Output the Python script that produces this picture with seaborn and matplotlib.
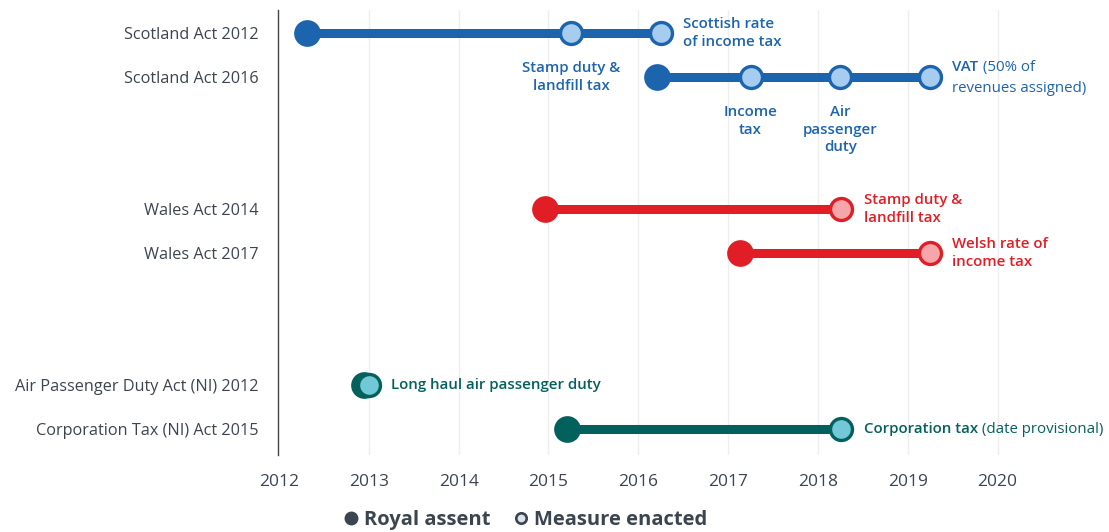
import numpy as np
import pandas as pd
import seaborn as sns
import matplotlib.pyplot as plt
from matplotlib.lines import Line2D

# --- data -------------------------------------------------------------
acts = ['Scotland Act 2012', 'Scotland Act 2016', 'Wales Act 2014',
        'Wales Act 2017', 'Air Passenger Duty Act (NI) 2012',
        'Corporation Tax (NI) Act 2015']
nations = ['Scotland', 'Scotland', 'Wales', 'Wales', 'NI', 'NI']
royal_assent = [2012.31, 2016.21, 2014.96, 2017.13, 2012.95, 2015.21]
measures = [[2015.25, 2016.25],
            [2017.25, 2018.25, 2019.25],
            [2018.26],
            [2019.25],
            [2013.0],
            [2018.26]]
measure_bold = [['Stamp duty &\nlandfill tax', 'Scottish rate\nof income tax'],
                ['Income\ntax', 'Air\npassenger\nduty', 'VAT'],
                ['Stamp duty &\nlandfill tax'],
                ['Welsh rate of\nincome tax'],
                ['Long haul air passenger duty'],
                ['Corporation tax']]
measure_extra = [['', ''],
                 ['', '', '(50% of\nrevenues assigned)'],
                 [''],
                 [''],
                 [''],
                 ['(date provisional)']]
label_side = [['below', 'right'],
              ['below', 'below', 'right'],
              ['right'], ['right'], ['right'], ['right']]
years = list(range(2012, 2021))

# --- styling ----------------------------------------------------------
dark = {'Scotland': '#1c64ae', 'Wales': '#e11d25', 'NI': '#02615d'}
light = {'Scotland': '#a6cdef', 'Wales': '#f4a6aa', 'NI': '#73c8d7'}
text_grey = '#3b4550'
fs = 10.8
bold = 'semibold'

sns.set_theme(style='white')
plt.rcParams['font.family'] = ['Open Sans', 'DejaVu Sans']

nation_order = list(dict.fromkeys(nations))
rows = []
for i, n in enumerate(nations):
    rows.append(nation_order.index(n) * 4 + nations[:i].count(n))

pts = []
for i in range(len(acts)):
    pts.append(dict(row=rows[i], x=royal_assent[i], kind='assent', nation=nations[i]))
    for m in measures[i]:
        pts.append(dict(row=rows[i], x=m, kind='measure', nation=nations[i]))
df = pd.DataFrame(pts)

fig = plt.figure(figsize=(11.09, 5.32), dpi=100)
ax = fig.add_axes([279 / 1109, 1 - 455 / 532, (1100 - 279) / 1109, 445 / 532])

for y in years[1:]:
    ax.axvline(y, color='#eeeeee', lw=1, zorder=0)

for i in range(len(acts)):
    ax.plot([royal_assent[i], max(measures[i])], [rows[i], rows[i]],
            color=dark[nations[i]], lw=6.5, solid_capstyle='butt', zorder=2)

for n in nation_order:
    sub = df[(df.nation == n) & (df.kind == 'assent')]
    sns.scatterplot(data=sub, x='x', y='row', ax=ax, s=370, color=dark[n],
                    edgecolor=dark[n], linewidth=0, zorder=3, legend=False)
    sub = df[(df.nation == n) & (df.kind == 'measure')]
    sns.scatterplot(data=sub, x='x', y='row', ax=ax, s=250, color=light[n],
                    edgecolor=dark[n], linewidth=2.4, zorder=4, legend=False)

for i in range(len(acts)):
    col = dark[nations[i]]
    for m, b, e, side in zip(measures[i], measure_bold[i], measure_extra[i], label_side[i]):
        if side == 'below':
            ax.annotate(b, (m, rows[i]), xytext=(0, -20), textcoords='offset points',
                        ha='center', va='top', fontsize=fs, fontweight=bold,
                        color=col, linespacing=1.35)
        elif not e:
            ax.annotate(b, (m, rows[i]), xytext=(16, 0), textcoords='offset points',
                        ha='left', va='center', fontsize=fs, fontweight=bold,
                        color=col, linespacing=1.35)
        else:
            first, _, rest = e.partition('\n')
            dy = 7 if rest else 0
            t = ax.annotate(b, (m, rows[i]), xytext=(16, dy), textcoords='offset points',
                            ha='left', va='center', fontsize=fs, fontweight=bold,
                            color=col)
            ax.annotate(' ' + first, (1, 0.5), xycoords=t, ha='left', va='center',
                        fontsize=fs, color=col)
            if rest:
                ax.annotate(rest, (m, rows[i]), xytext=(16, -8), textcoords='offset points',
                            ha='left', va='center', fontsize=fs, color=col)

ax.set_xlim(2012, 2021.14)
ax.set_ylim(rows[-1] + 0.59, -0.52)
ax.set_yticks(rows)
ax.set_yticklabels(acts)
ax.set_xticks(years)
ax.set_xticklabels([str(y) for y in years])
ax.tick_params(axis='y', length=0, pad=14, labelsize=11.7, labelcolor=text_grey)
ax.tick_params(axis='x', length=0, pad=14, labelsize=12.5, labelcolor=text_grey)
ax.set_xlabel('')
ax.set_ylabel('')
for s in ['top', 'right', 'bottom']:
    ax.spines[s].set_visible(False)
ax.spines['left'].set_color('#444444')
ax.spines['left'].set_linewidth(1)
ax.spines['left'].set_position(('data', 2011.99))

handles = [Line2D([], [], marker='o', ls='', markersize=9, color=text_grey),
           Line2D([], [], marker='o', ls='', markersize=7.5, markerfacecolor='#dde3e8',
                  markeredgecolor=text_grey, markeredgewidth=1.9)]
leg = fig.legend(handles, ['Royal assent', 'Measure enacted'], loc='center',
                 bbox_to_anchor=(524 / 1109, 1 - 520 / 532), ncol=2, frameon=False,
                 handletextpad=0.15, columnspacing=1.0, handlelength=1.0,
                 prop={'weight': 'bold', 'size': 14.5})
for t in leg.get_texts():
    t.set_color(text_grey)

fig.savefig('out.png', dpi=100)
